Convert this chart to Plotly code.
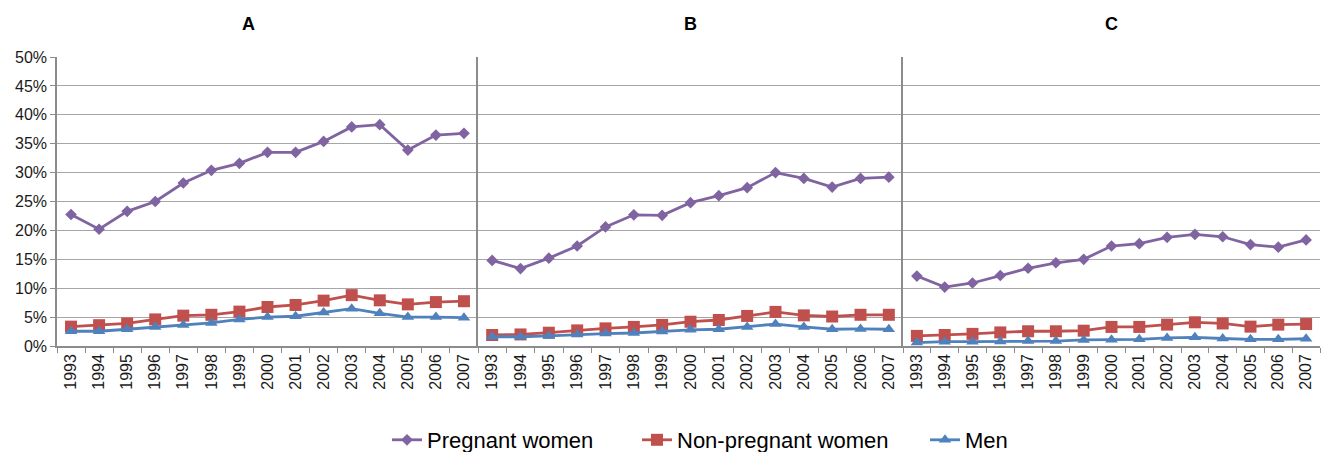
import plotly.graph_objects as go

years = [str(y) for y in range(1993, 2008)]
panels = ["A", "B", "C"]
series_names = ["Pregnant women", "Non-pregnant women", "Men"]

pregnant_A = [22.75, 20.2, 23.3, 25.0, 28.2, 30.4, 31.6, 33.5, 33.5, 35.4, 37.9, 38.3, 33.9, 36.5, 36.8]
nonpreg_A = [3.35, 3.6, 3.9, 4.6, 5.25, 5.4, 5.95, 6.75, 7.1, 7.85, 8.8, 7.9, 7.2, 7.6, 7.75]
men_A = [2.55, 2.55, 2.9, 3.3, 3.65, 4.0, 4.6, 5.0, 5.15, 5.8, 6.45, 5.65, 5.0, 5.0, 4.9]

pregnant_B = [14.8, 13.4, 15.2, 17.3, 20.6, 22.7, 22.6, 24.8, 26.0, 27.4, 30.0, 29.0, 27.5, 29.0, 29.2]
nonpreg_B = [1.9, 2.0, 2.3, 2.7, 3.05, 3.3, 3.65, 4.2, 4.5, 5.2, 5.9, 5.3, 5.1, 5.4, 5.4]
men_B = [1.6, 1.6, 1.75, 2.0, 2.15, 2.25, 2.5, 2.8, 2.9, 3.3, 3.8, 3.3, 2.9, 2.95, 2.9]

pregnant_C = [12.1, 10.2, 10.9, 12.2, 13.45, 14.4, 15.0, 17.3, 17.7, 18.8, 19.3, 18.9, 17.55, 17.1, 18.35]
nonpreg_C = [1.75, 1.9, 2.1, 2.35, 2.55, 2.55, 2.65, 3.3, 3.3, 3.7, 4.1, 3.9, 3.35, 3.7, 3.8]
men_C = [0.6, 0.75, 0.75, 0.8, 0.85, 0.85, 1.05, 1.1, 1.15, 1.4, 1.5, 1.3, 1.15, 1.15, 1.25]

data = {
    "A": [pregnant_A, nonpreg_A, men_A],
    "B": [pregnant_B, nonpreg_B, men_B],
    "C": [pregnant_C, nonpreg_C, men_C],
}

y_ticks = [0, 5, 10, 15, 20, 25, 30, 35, 40, 45, 50]
y_ticktext = ["%d%%" % v for v in y_ticks]

colors = ["#8064A2", "#C0504D", "#4F81BD"]
symbols = ["diamond", "square", "triangle-up"]
msizes = [9, 12, 11]

GRID = "#A6A6A6"
AXIS = "#8C8C8C"
FONT = "Liberation Sans, Arial, sans-serif"

W, H = 1324, 452
ML, MR, MT, MB = 57, 4, 57, 106
PW = W - ML - MR
PH = H - MT - MB
edges_px = [57, 478, 903, 1320]
domains = [[(edges_px[i] - ML) / PW, (edges_px[i + 1] - ML) / PW] for i in range(3)]

legend_ids = ["legend", "legend2", "legend3"]
legend_left_px = [387, 637, 925]

fig = go.Figure()

for ci, p in enumerate(panels):
    xa = "x" if ci == 0 else "x%d" % (ci + 1)
    ya = "y" if ci == 0 else "y%d" % (ci + 1)
    for si, name in enumerate(series_names):
        fig.add_trace(
            go.Scatter(
                x=years,
                y=data[p][si],
                xaxis=xa,
                yaxis=ya,
                mode="lines+markers",
                name=name,
                legendgroup=name,
                legend=legend_ids[si],
                showlegend=(ci == 0),
                line=dict(color=colors[si], width=2.8),
                marker=dict(symbol=symbols[si], size=msizes[si], color=colors[si]),
            )
        )

layout = {}
for ci in range(3):
    xkey = "xaxis" if ci == 0 else "xaxis%d" % (ci + 1)
    ykey = "yaxis" if ci == 0 else "yaxis%d" % (ci + 1)
    yname = "y" if ci == 0 else "y%d" % (ci + 1)
    xname = "x" if ci == 0 else "x%d" % (ci + 1)
    layout[xkey] = dict(
        domain=domains[ci],
        anchor=yname,
        type="category",
        range=[-0.5, 14.5],
        tickangle=-90,
        tickson="boundaries",
        ticks="outside",
        ticklen=5,
        tickcolor=AXIS,
        showline=True,
        linecolor=AXIS,
        linewidth=1.5,
        showgrid=False,
        automargin=False,
        tickfont=dict(family=FONT, size=16, color="#1a1a1a"),
    )
    layout[ykey] = dict(
        domain=[0, 1],
        anchor=xname,
        range=[0, 50],
        tickvals=y_ticks,
        ticktext=y_ticktext,
        showline=True,
        linecolor=AXIS,
        linewidth=1.5,
        showgrid=True,
        gridcolor=GRID,
        gridwidth=1.3,
        zeroline=False,
        ticks="outside" if ci == 0 else "",
        ticklen=5,
        tickcolor=AXIS,
        showticklabels=(ci == 0),
        automargin=False,
        tickfont=dict(family=FONT, size=16, color="#1a1a1a"),
    )

legend_y = (H - MB - 440) / PH
for lid, lx in zip(legend_ids, legend_left_px):
    layout[lid] = dict(
        orientation="h",
        x=(lx - ML) / PW, xanchor="left",
        y=legend_y, yanchor="middle",
        font=dict(family=FONT, size=22, color="#000000"),
        itemwidth=30,
        bgcolor="rgba(0,0,0,0)",
        borderwidth=0,
    )

fig.update_layout(**layout)

title_x = [(248 - ML) / PW, (690 - ML) / PW, (1111 - ML) / PW]
title_y = (H - MB - 24) / PH
for p, tx in zip(panels, title_x):
    fig.add_annotation(
        text="<b>%s</b>" % p, x=tx, y=title_y, xref="paper", yref="paper",
        xanchor="center", yanchor="middle", showarrow=False,
        font=dict(family=FONT, size=18, color="#000000"),
    )

fig.update_layout(
    width=W,
    height=H,
    margin=dict(l=ML, r=MR, t=MT, b=MB, autoexpand=False),
    paper_bgcolor="white",
    plot_bgcolor="white",
    font=dict(family=FONT),
)

fig.write_html(
    "out.html",
    config={"displayModeBar": False},
    post_script="document.body.style.margin='0';document.body.style.overflow='hidden';",
)
